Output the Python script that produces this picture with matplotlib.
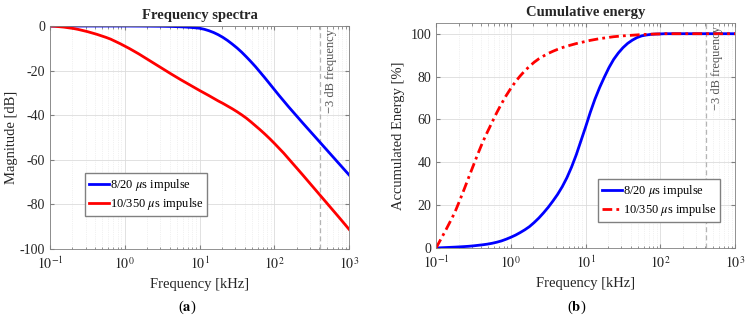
import numpy as np
import matplotlib
matplotlib.use("Agg")
import matplotlib.pyplot as plt

plt.rcParams['font.family'] = ['Liberation Serif', 'DejaVu Serif']
plt.rcParams['mathtext.fontset'] = 'stix'
plt.rcParams['axes.unicode_minus'] = False

# frequency grid, kHz (1/16 decade steps)
freq = [0.1, 0.1155, 0.1334, 0.154, 0.1778, 0.2054, 0.2371, 0.2738,
        0.3162, 0.3652, 0.4217, 0.487, 0.5623, 0.6494, 0.7499, 0.866,
        1.0, 1.155, 1.334, 1.54, 1.778, 2.054, 2.371, 2.738,
        3.162, 3.652, 4.217, 4.87, 5.623, 6.494, 7.499, 8.66,
        10.0, 11.55, 13.34, 15.4, 17.78, 20.54, 23.71, 27.38,
        31.62, 36.52, 42.17, 48.7, 56.23, 64.94, 74.99, 86.6,
        100.0, 115.5, 133.4, 154.0, 177.8, 205.4, 237.1, 273.8,
        316.2, 365.2, 421.7, 487.0, 562.3, 649.4, 749.9, 866.0, 1000.0]

# magnitude spectra [dB]
mag_820 = [0, 0, 0, 0, 0, 0, 0, 0,
           0, 0, 0, 0, 0, 0, 0, 0,
           0, -0.01, -0.02, -0.03, -0.04, -0.06, -0.08, -0.1,
           -0.12, -0.16, -0.2, -0.27, -0.35, -0.46, -0.6, -0.78,
           -1.0, -1.45, -2.1, -2.9, -3.9, -5.1, -6.5, -8.1,
           -9.8, -11.7, -13.8, -16.0, -18.3, -20.8, -23.3, -25.9,
           -28.5, -31.1, -33.6, -36.1, -38.5, -40.9, -43.3, -45.65,
           -48.0, -50.35, -52.7, -55.05, -57.4, -59.75, -62.1, -64.45, -66.8]
mag_10350 = [0, -0.1, -0.3, -0.5, -0.8, -1.1, -1.5, -2.0,
             -2.5, -3.1, -3.7, -4.4, -5.1, -5.9, -6.9, -7.9,
             -9.0, -10.1, -11.3, -12.5, -13.8, -15.1, -16.4, -17.7,
             -19.0, -20.3, -21.6, -22.85, -24.1, -25.3, -26.5, -27.7,
             -28.9, -30.05, -31.2, -32.4, -33.6, -34.7, -35.9, -37.1,
             -38.4, -39.8, -41.3, -43.0, -44.8, -46.6, -48.5, -50.5,
             -52.6, -54.8, -57.0, -59.4, -61.8, -64.2, -66.6, -69.05,
             -71.5, -73.95, -76.4, -78.85, -81.3, -83.75, -86.2, -88.7, -91.2]

# cumulative energy [%]
cum_820 = [0, 0.1, 0.2, 0.3, 0.4, 0.52, 0.65, 0.8,
           1.0, 1.25, 1.5, 1.8, 2.2, 2.7, 3.3, 4.1,
           5.0, 6.0, 7.2, 8.5, 10.0, 11.9, 14.0, 16.4,
           19.0, 21.9, 25.0, 28.6, 32.8, 37.8, 43.5, 50.0,
           56.5, 63.3, 69.5, 74.9, 79.7, 84.2, 88.0, 91.0,
           93.5, 95.5, 97.0, 98.2, 99.0, 99.4, 99.7, 99.85,
           99.9, 100, 100, 100, 100, 100, 100, 100,
           100, 100, 100, 100, 100, 100, 100, 100, 100]
cum_10350 = [0, 4.0, 8.0, 12.2, 16.5, 21.8, 27.3, 33.0,
             38.6, 44.2, 49.5, 54.2, 58.7, 63.2, 67.3, 71.1,
             74.5, 77.6, 80.3, 82.7, 84.8, 86.7, 88.3, 89.6,
             90.8, 91.8, 92.7, 93.5, 94.2, 94.8, 95.4, 95.9,
             96.4, 96.9, 97.3, 97.7, 98.0, 98.3, 98.6, 98.8,
             99.0, 99.15, 99.3, 99.45, 99.6, 99.7, 99.8, 99.85,
             99.9, 100, 100, 100, 100, 100, 100, 100,
             100, 100, 100, 100, 100, 100, 100, 100, 100]

f_3db = 410  # kHz
labels = [r'8/20 $\mu$s impulse', r'10/350 $\mu$s impulse']

fig = plt.figure(figsize=(7.46, 3.19), dpi=100)
ax1 = fig.add_axes([0.067, 0.2194, 0.401, 0.699])
ax2 = fig.add_axes([0.5845, 0.2226, 0.401, 0.7053])

txt = '#262626'
for ax in (ax1, ax2):
    ax.set_xscale('log')
    ax.set_xlim(0.1, 1000)
    ax.set_xticks([0.1, 1, 10, 100, 1000])
    ax.set_xticklabels([r'$10^{-1}$', r'$10^{0}$', r'$10^{1}$', r'$10^{2}$', r'$10^{3}$'])
    ax.grid(which='major', color='#dcdcdc', linewidth=0.6)
    ax.grid(which='minor', axis='x', color='#e4e4e4', linewidth=0.5, linestyle=':')
    ax.set_axisbelow(True)
    ax.tick_params(which='both', direction='in', top=True, right=True,
                   colors='#808080', labelcolor=txt, labelsize=10)
    ax.tick_params(which='major', length=3)
    ax.tick_params(which='minor', length=1.8)
    ax.tick_params(axis='x', which='major', pad=5)
    for s in ax.spines.values():
        s.set_color('#808080')
        s.set_linewidth(0.6)
    ax.axvline(f_3db, color='#b4b4b4', linestyle='--', linewidth=0.9, dashes=(4, 2.5))
    ax.set_xlabel('Frequency [kHz]', fontsize=10.5, color=txt)

# (a) frequency spectra
ax1.plot(freq, mag_820, color=(0, 0, 1), linewidth=2, label=labels[0])
ax1.plot(freq, mag_10350, color=(1, 0, 0), linewidth=2, label=labels[1])
ax1.set_ylim(-100, 0)
ax1.set_yticks([0, -20, -40, -60, -80, -100])
ax1.set_ylabel('Magnitude [dB]', fontsize=10.5, color=txt, labelpad=1)
ax1.set_title('Frequency spectra', fontsize=10.5, fontweight='bold', color=txt, pad=5)
ax1.text(470, -1.5, '\u22123 dB frequency', rotation=90, va='top', ha='left',
         fontsize=9, color='#555555')
ax1.legend(loc='lower left', bbox_to_anchor=(0.117, 0.148), borderaxespad=0,
           fancybox=False, edgecolor='#808080', framealpha=1, fontsize=9,
           handlelength=1.6, handletextpad=0.1, borderpad=0.3, labelspacing=0.25)

# (b) cumulative energy
ax2.plot(freq, cum_820, color=(0, 0, 1), linewidth=2, label=labels[0])
ax2.plot(freq, cum_10350, color=(1, 0, 0), linewidth=2, linestyle=(0, (3.5, 1.5, 1, 1.5)),
         label=labels[1])
ax2.set_ylim(0, 105)
ax2.set_yticks([0, 20, 40, 60, 80, 100])
ax2.set_ylabel('Accumulated Energy [%]', fontsize=10.5, color=txt, labelpad=4)
ax2.set_title('Cumulative energy', fontsize=10.5, fontweight='bold', color=txt, pad=5)
ax2.text(470, 103.5, '\u22123 dB frequency', rotation=90, va='top', ha='left',
         fontsize=9, color='#555555')
ax2.legend(loc='lower right', bbox_to_anchor=(0.95, 0.116), borderaxespad=0,
           fancybox=False, edgecolor='#808080', framealpha=1, fontsize=9,
           handlelength=1.6, handletextpad=0.1, borderpad=0.3, labelspacing=0.25)

fig.text(0.2507, 0.038, r'($\mathbf{a}$)', ha='center', va='center', fontsize=10.5, color='black')
fig.text(0.7735, 0.038, r'($\mathbf{b}$)', ha='center', va='center', fontsize=10.5, color='black')

fig.savefig('out.png', dpi=100)
